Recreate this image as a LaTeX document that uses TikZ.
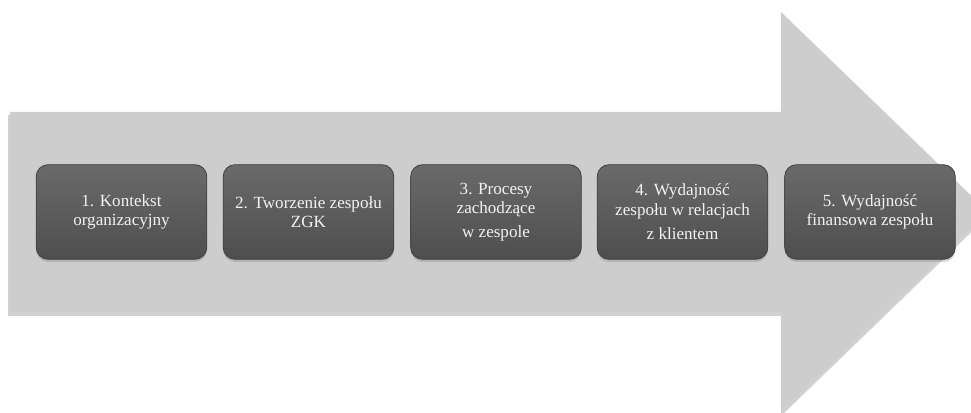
\documentclass[tikz,border=0pt]{standalone}
\usepackage{fontspec}
\setmainfont{Liberation Serif}
\usetikzlibrary{shadows}
\definecolor{arrowgray}{HTML}{CDCDCD}
\definecolor{boxtop}{HTML}{6A6A6A}
\definecolor{boxbot}{HTML}{4E4E4E}
\definecolor{boxline}{HTML}{434343}
\definecolor{boxtext}{HTML}{F2F2F2}
\begin{document}
\begin{tikzpicture}[
    x=0.75pt, y=-0.75pt,
    box/.style={rectangle, draw=boxline, line width=0.6pt, rounded corners=9pt,
        top color=boxtop, bottom color=boxbot,
        minimum width=128pt, minimum height=71pt, align=center,
        text=boxtext, font=\fontsize{12.8}{14.5}\selectfont,
        drop shadow={opacity=0.35, shadow xshift=0pt, shadow yshift=-2pt}},
]
    \useasboundingbox (0,0) rectangle (971,413);
    % big background arrow
    \fill[black, opacity=0.18] (8,115) -- (781,115) -- (781,14) -- (990,214)
        -- (781,416) -- (781,316) -- (8,316) -- cycle;
    \fill[arrowgray] (10,112) -- (781,112) -- (781,12) -- (988,212)
        -- (781,412) -- (781,312) -- (10,312) -- cycle;

    \node[box] (kontekst) at (121.5,212) {1. Kontekst\\organizacyjny};
    \node[box] (tworzenie) at (308.5,212) {2. Tworzenie zespołu\\ZGK};
    \node[box] (procesy) at (496,212) {3. Procesy\\zachodzące\\[3pt]w zespole};
    \node[box] (relacje) at (682.5,212) {4. Wydajność\\zespołu w relacjach\\[4pt]z klientem};
    \node[box] (finanse) at (870,212) {5. Wydajność\\finansowa zespołu};
\end{tikzpicture}
\end{document}
